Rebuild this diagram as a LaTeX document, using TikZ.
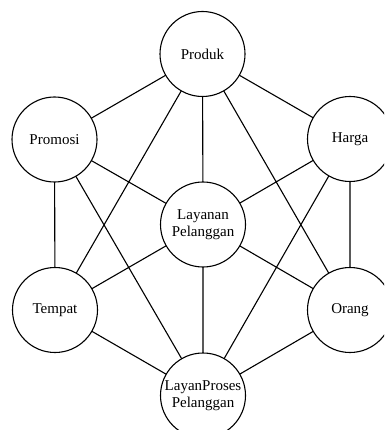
\documentclass[tikz,border=0pt]{standalone}
\usepackage{fontspec}
\setmainfont{Liberation Serif}
\begin{document}
\begin{tikzpicture}[x=1pt,y=-1pt,
  ball/.style={circle,draw,line width=1.1pt,fill=white,minimum size=85pt,inner sep=0pt,
    align=center,font=\fontsize{15}{17.3}\selectfont},
  link/.style={line width=1.1pt}]
\useasboundingbox (0,0) rectangle (384,430);
\clip (0,0) rectangle (384,430);
\fill[white] (0,0) rectangle (384,430);
\coordinate (cP) at (202.5,54);
\coordinate (cPr) at (54.5,139.5);
\coordinate (cH) at (350,139);
\coordinate (cL) at (203,224.5);
\coordinate (cT) at (55,310);
\coordinate (cO) at (350,310);
\coordinate (cLP) at (203,395.5);
\draw[link] (cP) -- (cPr) (cP) -- (cH) (cP) -- (cL) (cP) -- (cT) (cP) -- (cO)
  (cPr) -- (cL) (cPr) -- (cT) (cPr) -- (cLP)
  (cH) -- (cL) (cH) -- (cO) (cH) -- (cLP)
  (cL) -- (cT) (cL) -- (cO) (cL) -- (cLP)
  (cT) -- (cLP) (cO) -- (cLP);
\node[ball] (P) at (cP) {Produk};
\node[ball] (Pr) at (cPr) {Promosi};
\node[ball] (H) at (cH) {Harga};
\node[ball] (L) at (cL) {Layanan\\Pelanggan};
\node[ball] (T) at (cT) {Tempat};
\node[ball] (O) at (cO) {Orang};
\node[ball] (LP) at (cLP) {LayanProses\\Pelanggan};
\end{tikzpicture}
\end{document}
